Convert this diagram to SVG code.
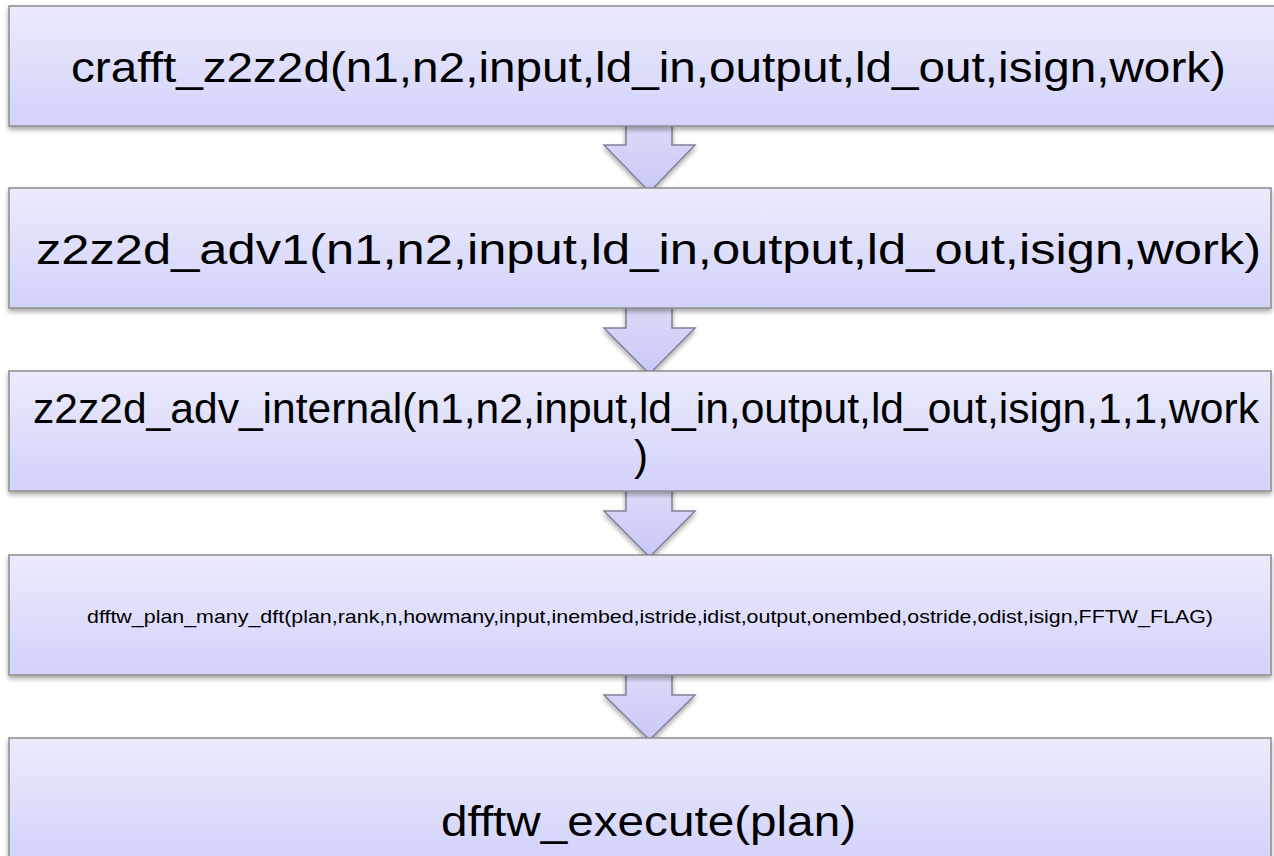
<svg xmlns="http://www.w3.org/2000/svg" width="1274" height="856" viewBox="0 0 1274 856">
<defs>
<linearGradient id="boxg" x1="0" y1="0" x2="0" y2="1">
<stop offset="0" stop-color="#ebebfb"/>
<stop offset="1" stop-color="#d2d2fc"/>
</linearGradient>
<linearGradient id="arrg" x1="0" y1="0" x2="0" y2="1">
<stop offset="0" stop-color="#dcdcf8"/>
<stop offset="1" stop-color="#c8c8f8"/>
</linearGradient>
<filter id="sh" x="-5%" y="-20%" width="110%" height="150%">
<feGaussianBlur in="SourceAlpha" stdDeviation="2.5"/>
<feOffset dx="0" dy="3" result="b"/>
<feComponentTransfer><feFuncA type="linear" slope="0.35"/></feComponentTransfer>
<feMerge><feMergeNode/><feMergeNode in="SourceGraphic"/></feMerge>
</filter>
</defs>
<style>
.box{fill:url(#boxg);stroke:#8c8c8c;stroke-width:1.5;filter:url(#sh)}
.arr{fill:url(#arrg);stroke:#80809a;stroke-width:1.5;stroke-linejoin:miter;filter:url(#sh)}
.t{font-family:"Liberation Sans",Arial,sans-serif;fill:#000;font-size:42px}
</style>
<rect width="1274" height="856" fill="#fff"/>
<g id="connectors">
<path class="arr" d="M626,120 L672,120 L672,145 L695,145 L649.5,192 L604,145 L626,145 Z"/>
<path class="arr" d="M626,302 L672,302 L672,328 L695,328 L649.5,374 L604,328 L626,328 Z"/>
<path class="arr" d="M626,485 L672,485 L672,511 L695,511 L649.5,557 L604,511 L626,511 Z"/>
<path class="arr" d="M626,669 L672,669 L672,695 L695,695 L649.5,740 L604,695 L626,695 Z"/>
</g>
<g id="node1">
<rect class="box" x="9" y="6" width="1270" height="120"/>
<text class="t" x="71" y="82" textLength="1155" lengthAdjust="spacingAndGlyphs">crafft_z2z2d(n1,n2,input,ld_in,output,ld_out,isign,work)</text>
</g>
<g id="node2">
<rect class="box" x="9" y="188" width="1262" height="120"/>
<text class="t" x="36" y="264" textLength="1225" lengthAdjust="spacingAndGlyphs">z2z2d_adv1(n1,n2,input,ld_in,output,ld_out,isign,work)</text>
</g>
<g id="node3">
<rect class="box" x="9" y="371" width="1262" height="120"/>
<text class="t" x="33" y="423" textLength="1226" lengthAdjust="spacingAndGlyphs">z2z2d_adv_internal(n1,n2,input,ld_in,output,ld_out,isign,1,1,work</text>
<text class="t" x="641" y="470" text-anchor="middle">)</text>
</g>
<g id="node4">
<rect class="box" x="9" y="555" width="1262" height="120"/>
<text class="t" x="87" y="623" style="font-size:19px" textLength="1126" lengthAdjust="spacingAndGlyphs">dfftw_plan_many_dft(plan,rank,n,howmany,input,inembed,istride,idist,output,onembed,ostride,odist,isign,FFTW_FLAG)</text>
</g>
<g id="node5">
<rect class="box" x="9" y="738" width="1262" height="125"/>
<text class="t" x="441" y="836" textLength="415" lengthAdjust="spacingAndGlyphs">dfftw_execute(plan)</text>
</g>
</svg>
